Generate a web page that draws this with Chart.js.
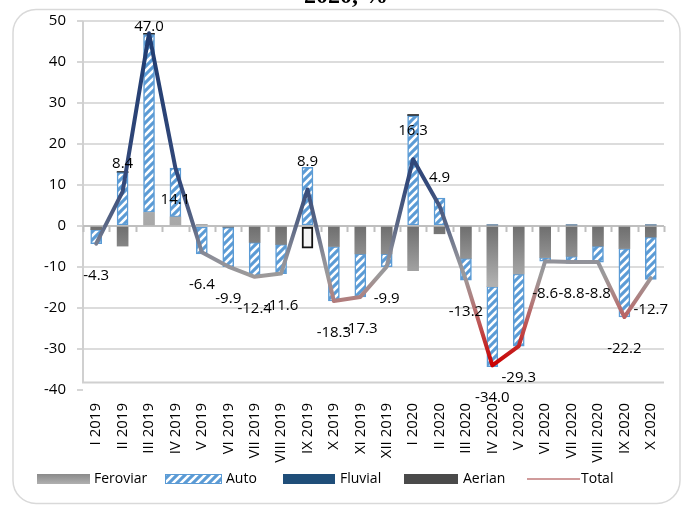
<!DOCTYPE html>
<html>
<head>
<meta charset="utf-8">
<script src="https://cdn.jsdelivr.net/npm/chart.js@4.4.1/dist/chart.umd.min.js"></script>
<style>
  html, body { margin: 0; padding: 0; background: #ffffff; }
  #wrap { width: 688px; height: 505px; position: relative; }
  canvas { display: block; }
</style>
</head>
<body>
<div id="wrap"><canvas id="c" width="688" height="505"></canvas></div>
<script>
// ---------- DATA ----------
const categories = ['I 2019','II 2019','III 2019','IV 2019','V 2019','VI 2019','VII 2019','VIII 2019','IX 2019','X 2019','XI 2019','XII 2019','I 2020','II 2020','III 2020','IV 2020','V 2020','VI 2020','VII 2020','VIII 2020','IX 2020','X 2020'];
const feroviar = [-0.9, -4.9, 3.3, 2.2, 0.4, -0.3, -4.0, -4.5, null, -5.0, -6.8, -6.8, -10.9, -1.9, -7.9, -14.8, -11.7, -7.7, -7.4, -4.9, -5.5, -2.7];
const auto = [-3.4, 13.0, 43.4, 11.9, -6.8, -9.6, -8.4, -7.1, 14.3, -13.3, -10.5, -3.1, 26.9, 6.8, -5.3, -19.5, -17.6, -0.9, -1.7, -3.9, -16.7, -10.3];
const fluvial = [null, null, null, null, null, null, null, null, null, null, null, null, null, null, null, 0.3, null, null, 0.3, null, null, 0.3];
const aerian = [null, 0.3, 0.3, null, null, null, null, null, -5.4, null, null, null, 0.3, null, null, null, null, null, null, null, null, null];
const total = [-4.3, 8.4, 47.0, 14.1, -6.4, -9.9, -12.4, -11.6, 8.9, -18.3, -17.3, -9.9, 16.3, 4.9, -13.2, -34.0, -29.3, -8.6, -8.8, -8.8, -22.2, -12.7];
const yTicks = { min: -40, max: 50, step: 10 };

// ---------- STYLES ----------
const FONT = "'Open Sans', 'DejaVu Sans', sans-serif";
const canvas = document.getElementById('c');
const cctx = canvas.getContext('2d');

function makeHatch() {
  const p = document.createElement('canvas');
  p.width = 8; p.height = 8;
  const g = p.getContext('2d');
  g.fillStyle = '#5b9bd5';
  g.fillRect(0, 0, 8, 8);
  g.strokeStyle = '#ffffff';
  g.lineWidth = 2.6;
  g.beginPath();
  g.moveTo(-2, 10); g.lineTo(10, -2);
  g.moveTo(-6, 6); g.lineTo(6, -6);
  g.moveTo(2, 14); g.lineTo(14, 2);
  g.stroke();
  return cctx.createPattern(p, 'repeat');
}
const hatch = makeHatch();

function feroviarFill(ctx) {
  const c = ctx.chart;
  if (!c.chartArea) return '#999999';
  const y = c.scales.y;
  const top = y.getPixelForValue(50), bot = y.getPixelForValue(-40);
  const g = c.ctx.createLinearGradient(0, top, 0, bot);
  const f = v => (50 - v) / 90;
  g.addColorStop(0, '#c8c8c8');
  g.addColorStop(f(0.05), '#a8a8a8');
  g.addColorStop(f(0), '#6e6e6e');
  g.addColorStop(f(-14), '#b0b0b0');
  g.addColorStop(1, '#c4c4c4');
  return g;
}

function totalStroke(ctx) {
  const c = ctx.chart;
  if (!c.chartArea) return '#5a6a8a';
  const y = c.scales.y;
  const top = y.getPixelForValue(50), bot = y.getPixelForValue(-40);
  const g = c.ctx.createLinearGradient(0, top, 0, bot);
  const f = v => (50 - v) / 90;
  g.addColorStop(0, '#1f3a6e');
  g.addColorStop(f(40), '#243f73');
  g.addColorStop(f(10), '#34497a');
  g.addColorStop(f(0), '#5c6885');
  g.addColorStop(f(-8), '#8f9099');
  g.addColorStop(f(-12), '#9c9a9a');
  g.addColorStop(f(-18), '#b07e7e');
  g.addColorStop(f(-24), '#bf5555');
  g.addColorStop(f(-30), '#c42020');
  g.addColorStop(f(-34), '#cc0000');
  g.addColorStop(1, '#cc0000');
  return g;
}

// ---------- PLUGINS ----------
const framePlugin = {
  id: 'frame',
  beforeDraw(chart) {
    const g = chart.ctx;
    g.save();
    g.fillStyle = '#ffffff';
    g.fillRect(0, 0, chart.width, chart.height);
    // rounded outer border
    const x0 = 13, y0 = 9.5, x1 = 680, y1 = 503.5, r = 23;
    g.strokeStyle = '#d9d9d9';
    g.lineWidth = 1.5;
    g.beginPath();
    g.moveTo(x0 + r, y0);
    g.lineTo(x1 - r, y0);
    g.arcTo(x1, y0, x1, y0 + r, r);
    g.lineTo(x1, y1 - r);
    g.arcTo(x1, y1, x1 - r, y1, r);
    g.lineTo(x0 + r, y1);
    g.arcTo(x0, y1, x0, y1 - r, r);
    g.lineTo(x0, y0 + r);
    g.arcTo(x0, y0, x0 + r, y0, r);
    g.closePath();
    g.stroke();
    // partially visible title (cut by the top edge)
    g.fillStyle = '#000000';
    g.font = "bold 24px 'Liberation Serif', 'DejaVu Serif', serif";
    g.textAlign = 'center';
    g.textBaseline = 'alphabetic';
    g.fillText('2020, %', 346, 3);
    g.restore();
  },
  beforeDatasetsDraw(chart) {
    const g = chart.ctx;
    const ca = chart.chartArea;
    const y = chart.scales.y;
    g.save();
    // left axis line and bottom plot border
    const yb = y.getPixelForValue(-38.2);
    g.strokeStyle = '#d0d0d0';
    g.lineWidth = 2;
    g.beginPath();
    g.moveTo(ca.left, ca.top);
    g.lineTo(ca.left, yb);
    g.lineTo(ca.right, yb);
    g.stroke();
    // category axis at zero with tick marks between categories
    const y0 = y.getPixelForValue(0);
    g.strokeStyle = '#bfbfbf';
    g.lineWidth = 2;
    g.beginPath();
    g.moveTo(ca.left, y0);
    g.lineTo(ca.right, y0);
    const n = categories.length;
    const w = (ca.right - ca.left) / n;
    for (let k = 0; k <= n; k++) {
      const xx = Math.round(ca.left + w * k) + 0.5;
      g.moveTo(xx, y0);
      g.lineTo(xx, y0 + 6);
    }
    g.stroke();
    g.restore();
  }
};

const labelPlugin = {
  id: 'totalLabels',
  afterDatasetsDraw(chart) {
    const g = chart.ctx;
    const meta = chart.getDatasetMeta(4);
    const ca = chart.chartArea;
    g.save();
    g.fillStyle = '#000000';
    g.font = '15px ' + FONT;
    g.textAlign = 'center';
    g.textBaseline = 'middle';
    const forcedBelow = new Set([3]);
    meta.data.forEach((pt, i) => {
      const v = total[i];
      let yy;
      if (v < 0 || forcedBelow.has(i)) yy = pt.y + 32;
      else yy = Math.max(pt.y - 28, ca.top + 6);
      g.fillText(v.toFixed(1), pt.x, yy);
    });
    g.restore();
  }
};

const legendPlugin = {
  id: 'customLegend',
  afterDraw(chart) {
    const g = chart.ctx;
    g.save();
    const yc = 479;
    g.font = '14px ' + FONT;
    g.textBaseline = 'middle';
    g.textAlign = 'left';
    // Feroviar
    let lg = g.createLinearGradient(0, yc - 5, 0, yc + 5);
    lg.addColorStop(0, '#8a8a8a'); lg.addColorStop(1, '#b0b0b0');
    g.fillStyle = lg;
    g.fillRect(37, yc - 5, 53, 10);
    g.fillStyle = '#000'; g.fillText('Feroviar', 94, yc);
    // Auto
    g.fillStyle = hatch;
    g.fillRect(165, yc - 5, 57, 10);
    g.strokeStyle = '#5b9bd5'; g.lineWidth = 1;
    g.strokeRect(165.5, yc - 4.5, 56, 9);
    g.fillStyle = '#000'; g.fillText('Auto', 226, yc);
    // Fluvial
    g.fillStyle = '#1f4e79';
    g.fillRect(283, yc - 5, 52, 10);
    g.fillStyle = '#000'; g.fillText('Fluvial', 340, yc);
    // Aerian
    g.fillStyle = '#4a4a4a';
    g.fillRect(404, yc - 5, 54, 10);
    g.fillStyle = '#000'; g.fillText('Aerian', 463, yc);
    // Total
    g.strokeStyle = '#c07a7a'; g.lineWidth = 1.5;
    g.beginPath(); g.moveTo(527, yc); g.lineTo(580, yc); g.stroke();
    g.fillStyle = '#000'; g.fillText('Total', 581, yc);
    g.restore();
  }
};

// ---------- CHART ----------
const barCommon = {
  type: 'bar',
  stack: 'bars',
  barThickness: 11,
  borderSkipped: false,
  order: 2
};

new Chart(canvas, {
  data: {
    labels: categories,
    datasets: [
      Object.assign({}, barCommon, {
        label: 'Feroviar', data: feroviar,
        backgroundColor: feroviarFill, borderWidth: 0
      }),
      Object.assign({}, barCommon, {
        label: 'Auto', data: auto,
        backgroundColor: hatch, borderColor: '#5b9bd5', borderWidth: 1.5
      }),
      Object.assign({}, barCommon, {
        label: 'Fluvial', data: fluvial,
        backgroundColor: '#1f4e79', borderWidth: 0
      }),
      Object.assign({}, barCommon, {
        label: 'Aerian', data: aerian,
        backgroundColor: ctx => (ctx.raw < 0 ? '#f4f4f4' : '#2a2a2a'),
        borderColor: '#111111',
        borderWidth: ctx => (ctx.raw < 0 ? 2 : 0)
      }),
      {
        type: 'line', label: 'Total', data: total, stack: 'line',
        borderColor: totalStroke, borderWidth: 4,
        pointRadius: 0, tension: 0, fill: false, order: 0,
        borderJoinStyle: 'round', borderCapStyle: 'round'
      }
    ]
  },
  options: {
    responsive: false,
    animation: false,
    devicePixelRatio: 1,
    layout: { padding: { top: 21, right: 24, left: 0, bottom: 0 } },
    plugins: { legend: { display: false }, tooltip: { enabled: false }, title: { display: false } },
    scales: {
      x: {
        type: 'category',
        stacked: true,
        offset: true,
        grid: { display: false, drawTicks: false },
        border: { display: false },
        ticks: {
          autoSkip: false, maxRotation: 90, minRotation: 90,
          padding: 13, color: '#000000', font: { size: 15, family: FONT }
        },
        afterFit(scale) { scale.height = 115; }
      },
      y: {
        stacked: true,
        min: yTicks.min, max: yTicks.max,
        border: { display: false },
        grid: {
          color: ctx => (ctx.tick && (ctx.tick.value === -40 || ctx.tick.value === 0) ? 'rgba(0,0,0,0)' : '#dcdcdc'),
          lineWidth: 2,
          drawTicks: true, tickLength: 6, tickColor: '#c8c8c8', tickWidth: 1.5
        },
        ticks: {
          stepSize: yTicks.step, padding: 11, color: '#000000',
          font: { size: 15, family: FONT }
        },
        afterFit(scale) { scale.width = 83; }
      }
    }
  },
  plugins: [framePlugin, labelPlugin, legendPlugin]
});
</script>
</body>
</html>
